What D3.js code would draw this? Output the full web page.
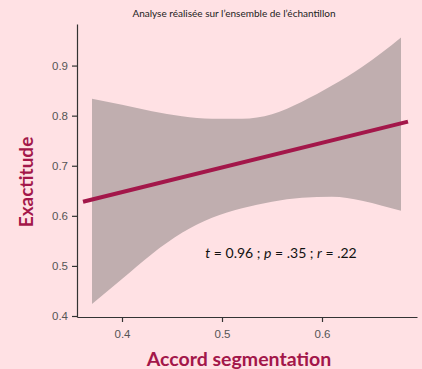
<!DOCTYPE html>
<html>
<head>
<meta charset="utf-8">
<script src="https://cdnjs.cloudflare.com/ajax/libs/d3/7.8.5/d3.min.js"></script>
<style>
  body { margin: 0; background: #ffe1e4; }
  #svgDiv { width: 422px; height: 369px; }
</style>
</head>
<body>
<div id="svgDiv"></div>
<script>
// data
var ribbonX     = [0.370, 0.400, 0.430, 0.460, 0.490, 0.520, 0.550, 0.580, 0.610, 0.640, 0.660, 0.679];
var ribbonUpper = [0.834, 0.822, 0.809, 0.799, 0.794, 0.794, 0.803, 0.828, 0.860, 0.897, 0.926, 0.956];
var ribbonLower = [0.424, 0.474, 0.524, 0.566, 0.596, 0.615, 0.628, 0.636, 0.638, 0.630, 0.620, 0.610];
var lineX = [0.361, 0.686];
var lineY = [0.628, 0.788];
var xTicks = [0.4, 0.5, 0.6];
var yTicks = [0.4, 0.5, 0.6, 0.7, 0.8, 0.9];
var subtitle = "Analyse réalisée sur l’ensemble de l’échantillon";
var xTitle = "Accord segmentation";
var yTitle = "Exactitude";

var svgWidth = 422, svgHeight = 369;
var svg = d3.select("#svgDiv").append("svg")
    .attr("width", svgWidth)
    .attr("height", svgHeight);

var x = d3.scaleLinear().domain([0.355, 0.695]).range([77, 417]);
var y = d3.scaleLinear().domain([0.398, 0.983]).range([317, 24]);

var band = ribbonX.map(function(d, i){ return {x: d, lo: ribbonLower[i], hi: ribbonUpper[i]}; });

svg.append("path")
    .datum(band)
    .attr("fill", "#c0aeaf")
    .attr("d", d3.area()
        .curve(d3.curveMonotoneX)
        .x(function(d){ return x(d.x); })
        .y0(function(d){ return y(d.lo); })
        .y1(function(d){ return y(d.hi); }));

svg.append("path")
    .datum(lineX.map(function(d, i){ return [d, lineY[i]]; }))
    .attr("fill", "none")
    .attr("stroke", "#a3174a")
    .attr("stroke-width", 4)
    .attr("d", d3.line()
        .x(function(d){ return x(d[0]); })
        .y(function(d){ return y(d[1]); }));

//axes
var xAxis = svg.append("g")
    .attr("transform", "translate(0,317)")
    .call(d3.axisBottom(x).tickValues(xTicks).tickSize(5).tickSizeOuter(0).tickFormat(d3.format(".1f")));
var yAxis = svg.append("g")
    .attr("transform", "translate(77,0)")
    .call(d3.axisLeft(y).tickValues(yTicks).tickSize(5).tickSizeOuter(0).tickFormat(d3.format(".1f")));

[xAxis, yAxis].forEach(function(a){
    a.select(".domain").attr("stroke", "#333").attr("stroke-width", 1.2);
    a.selectAll(".tick line").attr("stroke", "#333").attr("stroke-width", 1.2);
    a.selectAll(".tick text")
        .attr("fill", "#555")
        .style("font-family", "Liberation Sans, Arial, sans-serif")
        .style("font-size", "11.5px");
});
xAxis.selectAll(".tick text").attr("dy", "1.1em");
yAxis.selectAll(".tick text").attr("x", -9);

svg.append("text")
    .attr("x", 234).attr("y", 17)
    .attr("text-anchor", "middle")
    .style("font-family", "Lato, sans-serif")
    .style("font-size", "10px")
    .attr("fill", "#222")
    .text(subtitle);

svg.append("text")
    .attr("x", 239).attr("y", 366)
    .attr("text-anchor", "middle")
    .style("font-family", "Lato, sans-serif")
    .style("font-weight", "bold")
    .style("font-size", "19.5px")
    .attr("fill", "#a3174a")
    .text(xTitle);

svg.append("text")
    .attr("transform", "translate(33,182) rotate(-90)")
    .attr("text-anchor", "middle")
    .style("font-family", "Lato, sans-serif")
    .style("font-weight", "bold")
    .style("font-size", "19px")
    .attr("fill", "#a3174a")
    .text(yTitle);

var stat = svg.append("text")
    .attr("x", 281).attr("y", 258)
    .attr("text-anchor", "middle")
    .style("font-family", "Lato, sans-serif")
    .style("font-size", "14px")
    .attr("fill", "#111");
stat.append("tspan").style("font-style", "italic").text("t");
stat.append("tspan").text(" = 0.96 ; ");
stat.append("tspan").style("font-style", "italic").text("p");
stat.append("tspan").text(" = .35 ; ");
stat.append("tspan").style("font-style", "italic").text("r");
stat.append("tspan").text(" = .22");
</script>
</body>
</html>
